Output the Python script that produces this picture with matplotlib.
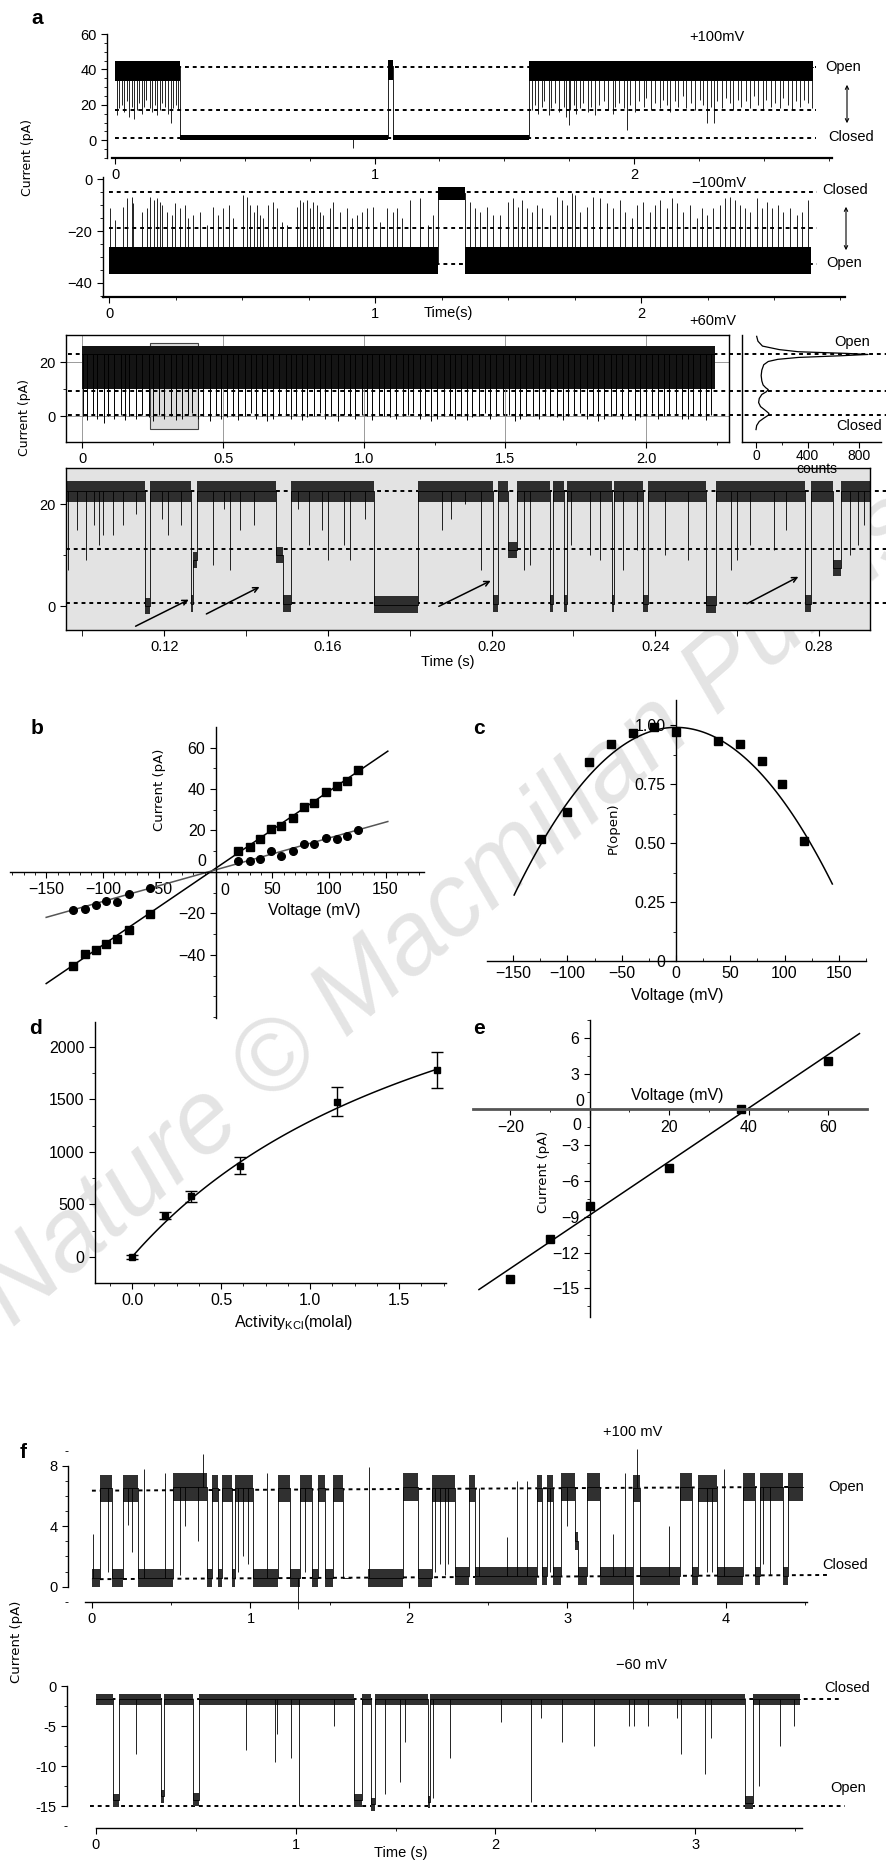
import numpy as np
import matplotlib
matplotlib.use('Agg')
import matplotlib.pyplot as plt
from matplotlib.ticker import MultipleLocator
from matplotlib.patches import Rectangle, FancyArrowPatch

plt.rcParams['font.family'] = ['Liberation Sans Narrow', 'Liberation Sans', 'DejaVu Sans']
plt.rcParams['font.size'] = 10.5
plt.rcParams['axes.linewidth'] = 1.0
plt.rcParams['xtick.major.size'] = 4
plt.rcParams['ytick.major.size'] = 4
plt.rcParams['xtick.minor.size'] = 2.5
plt.rcParams['ytick.minor.size'] = 2.5

WIDE = ['DejaVu Sans']

# ---------------- data ----------------
# a, +100 mV trace (s, pA)
a1_edges = [0.0, 0.25, 1.052, 1.070, 1.595, 2.690]
a1_levels = [41.5, 1.5, 42.0, 1.5, 41.5]
a1_spk_t = [0.006, 0.015, 0.028, 0.034, 0.047, 0.053, 0.066, 0.072, 0.085, 0.091,
            0.102, 0.113, 0.120, 0.136, 0.143, 0.155, 0.161, 0.175, 0.182, 0.194,
            0.203, 0.216, 0.222, 0.235, 0.243, 0.917,
            1.606, 1.619, 1.630, 1.645, 1.655, 1.671, 1.682, 1.697, 1.711, 1.729,
            1.737, 1.748, 1.755, 1.767, 1.778, 1.793, 1.804, 1.821, 1.836, 1.851,
            1.865, 1.885, 1.900, 1.919, 1.926, 1.944, 1.960, 1.973, 1.986, 2.005,
            2.019, 2.037, 2.048, 2.065, 2.080, 2.099, 2.110, 2.127, 2.140, 2.159,
            2.170, 2.189, 2.202, 2.219, 2.234, 2.253, 2.264, 2.281, 2.295, 2.307,
            2.320, 2.339, 2.354, 2.371, 2.382, 2.399, 2.414, 2.433, 2.446, 2.463,
            2.478, 2.497, 2.510, 2.528, 2.542, 2.561, 2.574, 2.592, 2.607, 2.625,
            2.639, 2.656, 2.671, 2.684]
a1_spk_y = [14, 18, 20, 16, 22, 13, 19, 12, 17, 21,
            15, 19, 23, 18, 16, 20, 14, 17, 21, 19,
            15, 10, 18, 20, 17, -4.5,
            17, 20, 15, 19, 22, 14, 18, 21, 16, 19,
            13, 8.5, 17, 20, 15, 18, 21, 16, 19, 14,
            20, 22, 17, 15, 19, 21, 18, 5.7, 20, 16,
            22, 19, 24, 17, 21, 18, 23, 20, 16, 22,
            19, 25, 18, 21, 17, 23, 20, 10, 19, 10,
            22, 18, 24, 21, 17, 23, 19, 22, 18, 25,
            20, 17, 23, 19, 21, 18, 24, 20, 17, 22,
            19, 23, 21, 18]

# a, -100 mV trace
a2_edges = [0.0, 1.237, 1.338, 2.640]
a2_levels = [-32.5, -5.5, -32.5]
a2_spk_t = [0.004, 0.023, 0.054, 0.066, 0.085, 0.091, 0.123, 0.142, 0.154, 0.167,
            0.179, 0.192, 0.198, 0.217, 0.236, 0.248, 0.267, 0.286, 0.298, 0.317,
            0.342, 0.367, 0.392, 0.411, 0.430, 0.449, 0.467, 0.505, 0.518, 0.530,
            0.543, 0.555, 0.568, 0.580, 0.599, 0.618, 0.630, 0.649, 0.668, 0.706,
            0.718, 0.730, 0.743, 0.756, 0.768, 0.781, 0.793, 0.806, 0.831, 0.843,
            0.868, 0.894, 0.912, 0.931, 0.950, 0.969, 0.994, 1.019, 1.044, 1.069,
            1.082, 1.100, 1.132, 1.169, 1.200, 1.219,
            1.357, 1.376, 1.395, 1.420, 1.445, 1.470, 1.501, 1.520, 1.539, 1.551,
            1.570, 1.589, 1.608, 1.627, 1.658, 1.683, 1.702, 1.721, 1.739, 1.752,
            1.771, 1.796, 1.821, 1.846, 1.871, 1.896, 1.921, 1.940, 1.965, 1.984,
            2.009, 2.034, 2.053, 2.071, 2.097, 2.115, 2.134, 2.159, 2.184, 2.209,
            2.228, 2.247, 2.272, 2.297, 2.316, 2.335, 2.353, 2.372, 2.391, 2.410,
            2.435, 2.454, 2.473, 2.491, 2.516, 2.535, 2.560, 2.585, 2.604, 2.629]
a2_spk_y = [-11.3, -15.8, -10.6, -7.4, -6.8, -9.4, -12.6, -11.3, -6.8, -8.1,
            -7.4, -8.7, -10, -12.6, -13.8, -9.4, -11.3, -10, -15.1, -13.8,
            -12.6, -17.7, -10.6, -13.8, -11.3, -10, -15.1, -6.2, -6.8, -10,
            -12.6, -10, -13.8, -15.1, -10, -8.7, -11.3, -16.4, -17.7, -10.6,
            -8.1, -8.7, -8.1, -11.3, -8.7, -10, -12.6, -13.8, -11.3, -8.7,
            -12.6, -11.3, -15.1, -13.8, -12.6, -11.3, -10.6, -16.4, -11.3, -12.6,
            -11.3, -15.1, -8.1, -7.4, -17.7, -13.8,
            -8.7, -11.3, -12.6, -10.6, -13.8, -13.8, -8.7, -7.4, -10.6, -8.1,
            -11.3, -12.6, -10, -11.3, -13.8, -6.8, -8.1, -10, -5.5, -6.2,
            -12.6, -10.6, -6.8, -7.4, -9.4, -11.3, -8.1, -12.6, -15.1, -10,
            -8.7, -12.6, -10, -8.1, -11.3, -7.4, -9.4, -12.6, -10, -15.1,
            -11.3, -13.8, -11.3, -10, -7.4, -6.8, -8.1, -10, -11.3, -12.6,
            -7.4, -11.3, -8.7, -11.3, -10, -12.6, -11.3, -13.8, -12.6, -8.1]

# a, +60 mV overview trace (closures reaching the closed level)
a3_edges = [0.0, 2.245]
a3_levels = [23.0]
a3_spk_t = [0.003, 0.017, 0.037, 0.053, 0.076, 0.091, 0.114, 0.137, 0.153, 0.168,
            0.191, 0.214, 0.237, 0.253, 0.273, 0.291, 0.314, 0.334, 0.353, 0.376,
            0.391, 0.411, 0.430, 0.453, 0.476, 0.494, 0.514, 0.534, 0.553, 0.576,
            0.599, 0.617, 0.637, 0.657, 0.676, 0.699, 0.722, 0.740, 0.760, 0.780,
            0.799, 0.822, 0.845, 0.863, 0.883, 0.906, 0.929, 0.949, 0.968, 0.991,
            1.011, 1.029, 1.052, 1.072, 1.091, 1.114, 1.137, 1.155, 1.175, 1.198,
            1.217, 1.237, 1.260, 1.283, 1.303, 1.321, 1.344, 1.364, 1.383, 1.406,
            1.429, 1.448, 1.468, 1.491, 1.514, 1.534, 1.552, 1.575, 1.598, 1.621,
            1.641, 1.660, 1.683, 1.706, 1.724, 1.744, 1.767, 1.790, 1.810, 1.829,
            1.852, 1.875, 1.893, 1.913, 1.937, 1.960, 1.980, 1.998, 2.021, 2.044,
            2.063, 2.083, 2.106, 2.129, 2.149, 2.167, 2.190, 2.213, 2.229]
a3_spk_y = [0, -1.5, 0.5, -1, -2.5, 0, -1, 0.5, -1.5, 0,
            -1, 0.5, -0.5, -2, 0.5, -1, 0, -1.5, -1, 0.5,
            1, -1, 0, -2, 0.5, -1, -0.5, 0, -1.5, 0,
            1, -1, 0, -2, -1, 0.5, 0.5, -1, 0, -1.5,
            -0.5, 0, 1, -1, 0, -2, 0.5, 0, -1, 0.5,
            0, -1.5, 0.5, 0, -0.5, -1, 0, 0.5, 1, -1,
            0, -2, -1, 0, 0.5, -1, 0, -1.5, -0.5, 0,
            1, -1, 0, 0.5, 0.5, -2, -1, 0, 0, -1,
            0.5, 0, -0.5, -1.5, 0, 0.5, 1, -1, 0, -2,
            -1, 0, 0.5, -1, 0, -1.5, -0.5, 0, 1, -1,
            0, 0.5, 0.5, -1, -1, 0, 0, -1.5, 0.5]

# all-points histogram (pA, counts)
hist_pA = [29.5, 27.7, 25.9, 24.6, 23.8, 23.2, 22.8, 22.3, 21.7, 21.0,
           20.2, 19.0, 17.0, 15.0, 13.0, 11.5, 10.5, 9.8, 9.0, 8.0,
           6.5, 5.0, 3.5, 2.0, 1.0, 0.3, -0.8, -2.0, -3.5, -5.0]
hist_counts = [5, 15, 50, 180, 330, 700, 870, 650, 330, 170,
               95, 60, 45, 40, 45, 55, 75, 95, 80, 45,
               25, 20, 35, 75, 100, 95, 60, 25, 5, 0]

# a, expanded +60 mV trace
a4_edges = [0.096, 0.1152, 0.1165, 0.1266, 0.1270, 0.1280, 0.1473, 0.1490, 0.1510,
            0.1713, 0.1821, 0.2003, 0.2017, 0.2041, 0.2062, 0.2143, 0.2150, 0.2178,
            0.2184, 0.2294, 0.2299, 0.2371, 0.2383, 0.2524, 0.2549, 0.2765, 0.2780,
            0.2834, 0.2855, 0.2924]
a4_levels = [22.5, 0.0, 22.5, 0.5, 9.0, 22.5, 10.0, 0.5, 22.5,
             0.3, 22.5, 0.5, 22.5, 11.0, 22.5, 0.5, 22.5, 0.5,
             22.5, 0.5, 22.5, 0.5, 22.5, 0.3, 22.5, 0.5, 22.5,
             7.5, 22.5]
a4_spk_t = [0.0966, 0.0986, 0.1010, 0.1028, 0.1041, 0.1051, 0.1075, 0.1100, 0.1130, 0.1195,
            0.1210, 0.1240, 0.1320, 0.1345, 0.1360, 0.1385, 0.1420, 0.1528, 0.1555, 0.1585,
            0.1600, 0.1640, 0.1655, 0.1690, 0.1880, 0.1900, 0.1935, 0.1975, 0.2080, 0.2095,
            0.2195, 0.2240, 0.2265, 0.2322, 0.2355, 0.2425, 0.2480, 0.2585, 0.2600, 0.2632,
            0.2690, 0.2720, 0.2875, 0.2895, 0.2910]
a4_spk_y = [7, 15, 9, 16, 12, 14, 14, 16, 18, 17,
            14, 16, 8, 19, 7, 15, 16, 19, 12, 15,
            9, 12, 9, 17, 15, 17, 20, 7, 7, 8,
            12, 10, 9, 7, 11, 10, 9, 7, 9, 12,
            11, 15, 10, 12, 16]
a4_arrow_start = [(0.1124, -4.2), (0.1297, -1.8), (0.1865, -0.3), (0.2618, 0.2)]
a4_arrow_end = [(0.1266, 1.5), (0.1439, 4.0), (0.2004, 5.2), (0.2756, 6.0)]

# b, I-V (mV, pA)
b_v = [-126, -116, -106, -97, -87, -77, -58, 20, 30, 39, 49, 58, 68, 78, 87, 97, 107, 116, 126]
b_sq = [-45.5, -39.5, -37.4, -34.5, -32.1, -27.8, -20.1, 10.3, 11.9, 16.1, 20.7, 22.0,
        26.0, 31.3, 33.3, 38.7, 41.4, 44.0, 49.0]
b_ci = [-18.5, -17.7, -15.7, -13.8, -14.5, -10.4, -7.9, 5.1, 5.5, 6.4, 10.1, 7.9,
        10.1, 13.5, 13.7, 16.4, 16.1, 17.2, 20.4]
b_fit_sq = (0.371, -5.0)   # slope pA/mV, reversal mV
b_fit_ci = (0.153, -7.0)

# c, open probability
c_v = [-124, -100, -80, -60, -40, -20, 0, 39, 59, 79, 98, 118]
c_p = [0.517, 0.633, 0.842, 0.919, 0.967, 0.993, 0.969, 0.934, 0.919, 0.847, 0.751, 0.510]
c_fit = (0.99, 3.2e-5)

# d, conductance vs activity
d_a = [0.0, 0.184, 0.329, 0.608, 1.152, 1.715]
d_g = [0, 394, 578, 870, 1480, 1778]
d_err = [15, 35, 50, 80, 135, 170]
d_fit = (3866, 1.99)

# e, reversal potential
e_v = [-20, -10, 0, 20, 38, 60]
e_i = [-14.2, -10.9, -8.1, -4.9, 0.0, 4.1]
e_fit = (0.224, 39.5)

# f, +100 mV trace
f1_edges = [0.000, 0.053, 0.124, 0.198, 0.292, 0.513, 0.724, 0.755, 0.797, 0.818,
            0.881, 0.902, 1.018, 1.176, 1.249, 1.312, 1.386, 1.428, 1.470, 1.523,
            1.586, 1.628, 1.743, 1.964, 2.059, 2.143, 2.290, 2.381, 2.416, 2.805,
            2.837, 2.868, 2.911, 2.957, 3.048, 3.069, 3.121, 3.205, 3.416, 3.458,
            3.710, 3.784, 3.826, 3.941, 4.109, 4.183, 4.215, 4.362, 4.394, 4.486]
f1_levels = [0.6, 6.5, 0.6, 6.5, 0.6, 6.6, 0.6, 6.5, 0.6, 6.5,
             0.6, 6.5, 0.6, 6.5, 0.6, 6.5, 0.6, 6.5, 0.6, 6.5,
             0.6, np.nan, 0.6, 6.6, 0.6, 6.5, 0.7, 6.5, 0.7, 6.5,
             0.7, 6.5, 0.7, 6.6, 3.0, 0.7, 6.6, 0.7, 6.5, 0.7,
             6.6, 0.7, 6.5, 0.7, 6.6, 0.7, 6.6, 0.7, 6.6]
f1_spk_t = [0.005, 0.099, 0.229, 0.250, 0.330, 0.461, 0.555, 0.587, 0.671, 0.700,
            0.923, 0.955, 0.986, 1.102, 1.300, 1.344, 1.745, 2.164, 2.195, 2.227,
            2.248, 2.444, 2.616, 2.683, 2.746, 2.890, 2.995, 3.289, 3.362, 3.411,
            3.440, 3.643, 3.878, 3.910, 3.988, 4.236, 4.278]
f1_spk_y = [3.5, 1.0, 4.1, 2.3, 7.8, 7.5, 0.8, 4.0, 3.0, 8.8,
            1.0, 2.0, 1.5, 7.5, -1.5, 1.0, 7.9, 1.0, 1.5, 0.8,
            1.5, 6.5, 3.3, 7.0, 7.0, 1.0, 4.0, 3.5, 7.5, -1.5,
            9.1, 4.0, 1.0, 1.0, 7.8, 1.5, 0.8]

# f, -60 mV trace
f2_edges = [0.000, 0.085, 0.113, 0.326, 0.340, 0.488, 0.516, 1.290, 1.330, 1.376,
            1.396, 1.660, 1.670, 3.248, 3.291, 3.523]
f2_levels = [-1.6, -14.3, -1.6, -13.8, -1.6, -14.2, -1.6, -14.3, -1.6, -14.8,
             -1.6, -14.5, -1.6, -14.6, -1.6]
f2_spk_t = [0.199, 0.752, 0.894, 0.905, 0.979, 1.016, 1.190, 1.447, 1.523, 1.546,
            1.688, 1.773, 2.028, 2.179, 2.227, 2.335, 2.496, 2.667, 2.695, 2.766,
            2.908, 2.930, 3.050, 3.078, 3.319, 3.427, 3.495]
f2_spk_y = [-8.5, -8.0, -9.5, -6.0, -9.0, -15.0, -5.0, -13.5, -12.0, -7.0,
            -14.0, -9.0, -4.5, -14.5, -4.0, -7.0, -7.5, -5.0, -5.0, -5.0,
            -4.0, -8.5, -11.0, -6.5, -12.5, -7.5, -5.0]

# ---------------- figure ----------------
W, H = 886, 1860
fig = plt.figure(figsize=(W / 100, H / 100), dpi=100)


def box(l, t, r, b):
    return [l / W, 1 - b / H, (r - l) / W, (b - t) / H]


def ftext(x, y, s, **kw):
    kw.setdefault('ha', 'center')
    kw.setdefault('va', 'center')
    fig.text(x / W, 1 - y / H, s, **kw)


def new_ax(rect, keep=('left', 'bottom')):
    ax = fig.add_axes(rect)
    ax.patch.set_alpha(0)
    for s in ['left', 'right', 'top', 'bottom']:
        ax.spines[s].set_visible(s in keep)
    return ax


def draw_trace(ax, edges, levels, thr, band_open, band_closed, spk_t, spk_y,
               band_color='k', lw=0.6):
    # band_*: (spread below, spread above) of the recording noise around a level
    e = np.asarray(edges, float)
    lv = np.asarray(levels, float)
    y = np.append(lv, lv[-1])
    is_open = np.abs(y) > thr
    lo = np.where(is_open, band_open[0], band_closed[0])
    hi = np.where(is_open, band_open[1], band_closed[1])
    if y[0] < 0:
        lo, hi = hi, lo
    ax.fill_between(e, y - lo, y + hi, step='post', color=band_color, lw=0, zorder=2)
    ax.plot(e, y, drawstyle='steps-post', color='k', lw=lw, zorder=2)
    st = np.asarray(spk_t, float)
    idx = np.clip(np.searchsorted(e, st, side='right') - 1, 0, len(lv) - 1)
    ax.vlines(st, lv[idx], spk_y, color='k', lw=lw, zorder=2)


DASH = dict(color='k', lw=1.4, ls=(0, (2, 2)), zorder=1)

# watermark
fig.text(12 / W, 1 - 1328 / H, 'Nature \u00a9 Macmillan Publishers Ltd', rotation=41,
         rotation_mode='anchor', ha='left', va='baseline', fontsize=74, style='italic',
         color='#e4e4e4', family=['Liberation Sans', 'DejaVu Sans'], zorder=-5)

# ---- a1
ax1 = new_ax(box(107, 34, 832, 158))
ax1.set_xlim(-0.031, 2.763)
ax1.set_ylim(-10, 60)
draw_trace(ax1, a1_edges, a1_levels, 20, (8.0, 3.5), (1.5, 1.5), a1_spk_t, a1_spk_y)
for lv in [41.5, 17.0, 1.5]:
    ax1.plot([0.0, 2.70], [lv, lv], **DASH)
ax1.set_xticks([0, 1, 2])
ax1.xaxis.set_minor_locator(MultipleLocator(0.25))
ax1.set_yticks([0, 20, 40, 60])
ax1.yaxis.set_minor_locator(MultipleLocator(5))
ax1.spines['bottom'].set_linewidth(1.6)
ax1.spines['bottom'].set_bounds(-0.012, 2.763)
ftext(717, 37, '+100mV')
ftext(825, 67, 'Open', ha='left')
ftext(828, 137, 'Closed', ha='left')
fig.add_artist(FancyArrowPatch((847 / W, 1 - 82 / H), (847 / W, 1 - 126 / H),
               transform=fig.transFigure, arrowstyle='<->', mutation_scale=6, lw=0.8, color='k'))

# ---- a2
ax2 = new_ax(box(103, 177, 845, 297))
ax2.set_xlim(-0.023, 2.767)
ax2.set_ylim(-45.4, 0.8)
draw_trace(ax2, a2_edges, a2_levels, 20, (6.5, 4.0), (2.5, 2.5), a2_spk_t, a2_spk_y)
for lv in [-5.0, -18.8, -32.8]:
    ax2.plot([0.0, 2.66], [lv, lv], **DASH)
ax2.set_xticks([0, 1, 2])
ax2.xaxis.set_minor_locator(MultipleLocator(0.25))
ax2.set_yticks([-40, -20, 0])
ax2.yaxis.set_minor_locator(MultipleLocator(5))
ax2.spines['bottom'].set_linewidth(1.6)
ftext(719, 183, '\u2212100mV')
ftext(822, 190, 'Closed', ha='left')
ftext(826, 263, 'Open', ha='left')
fig.add_artist(FancyArrowPatch((846 / W, 1 - 204 / H), (846 / W, 1 - 253 / H),
               transform=fig.transFigure, arrowstyle='<->', mutation_scale=6, lw=0.8, color='k'))
ftext(448, 313, 'Time(s)')
ftext(28, 157, 'Current (pA)', rotation=90, family=WIDE, fontsize=9)

# ---- a3
ax3 = new_ax(box(66, 335, 729, 442), keep=('left', 'right', 'top', 'bottom'))
ax3.set_xlim(-0.057, 2.294)
ax3.set_ylim(-9.6, 30)
ax3.set_xticks([0, 0.5, 1.0, 1.5, 2.0])
ax3.set_xticklabels(['0', '0.5', '1.0', '1.5', '2.0'])
ax3.xaxis.set_minor_locator(MultipleLocator(0.25))
ax3.set_yticks([0, 20])
ax3.set_yticks([10], minor=True)
ax3.grid(True, which='major', color='#8a8a8a', lw=0.6, zorder=0)
ax3.add_patch(Rectangle((0.24, -4.8), 0.17, 31.8, fc='#dcdcdc', ec='#444444', lw=0.8, zorder=0.5))
draw_trace(ax3, a3_edges, a3_levels, 15, (13.0, 3.0), (1.0, 1.0), a3_spk_t, a3_spk_y,
           band_color='#141414', lw=0.7)
for lv in [23.0, 9.3, 0.4]:
    ax3.plot([-0.05, 2.851], [lv, lv], clip_on=False, **DASH)
ftext(713, 321, '+60mV')
ftext(25, 417, 'Current (pA)', rotation=90, family=WIDE, fontsize=9)

axh = new_ax(box(742, 335, 881, 442))
axh.set_xlim(-109, 971)
axh.set_ylim(-9.6, 30)
axh.plot(hist_counts, hist_pA, color='k', lw=0.9)
axh.set_xticks([0, 400, 800])
axh.xaxis.set_minor_locator(MultipleLocator(200))
axh.tick_params(axis='x', pad=1, labelsize=10)
axh.set_yticks([])
ftext(852, 342, 'Open')
ftext(859, 426, 'Closed')
ftext(817, 469, 'counts', fontsize=10)

# ---- a4
ax4 = new_ax(box(66, 468, 870, 630), keep=('left', 'right', 'top', 'bottom'))
ax4.patch.set_alpha(1)
ax4.set_facecolor('#e3e3e3')
ax4.set_xlim(0.096, 0.2925)
ax4.set_ylim(-4.7, 27.1)
draw_trace(ax4, a4_edges, a4_levels, 15, (2.0, 2.0), (1.6, 1.6), a4_spk_t, a4_spk_y,
           band_color='#2e2e2e')
for lv in [22.5, 11.2, 0.6]:
    ax4.plot([0.096, 0.3034], [lv, lv], clip_on=False, **DASH)
for (x0, y0), (x1, y1) in zip(a4_arrow_start, a4_arrow_end):
    ax4.annotate('', xy=(x1, y1), xytext=(x0, y0),
                 arrowprops=dict(arrowstyle='->', lw=1.1, color='k', mutation_scale=9))
ax4.set_xticks([0.12, 0.16, 0.20, 0.24, 0.28])
ax4.set_xticklabels(['0.12', '0.16', '0.20', '0.24', '0.28'])
ax4.set_xticks([0.10, 0.14, 0.18, 0.22, 0.26], minor=True)
ax4.tick_params(axis='x', which='minor', length=4)
ax4.set_yticks([0, 20])
ax4.set_yticks([10], minor=True)
ftext(448, 662, 'Time (s)')

# ---- b
TS = 11.5
axb = new_ax(box(10, 727, 424, 1018))
axb.set_xlim(-182, 184)
axb.set_ylim(-70.4, 69.9)
axb.spines['left'].set_position(('data', 0))
axb.spines['bottom'].set_position(('data', 0))
vv = np.array([-150.0, 152.0])
axb.plot(vv, b_fit_sq[0] * (vv - b_fit_sq[1]), color='k', lw=1.1)
axb.plot(vv, b_fit_ci[0] * (vv - b_fit_ci[1]), color='#555555', lw=1.1)
axb.plot(b_v, b_sq, 's', color='k', ms=5.5)
axb.plot(b_v, b_ci, 'o', color='k', ms=5.5)
axb.set_xticks([-150, -100, -50, 0, 50, 100, 150])
axb.set_xticklabels(['\u2212150', '\u2212100', '\u221250', '', '50', '100', '150'], fontsize=TS)
axb.xaxis.set_minor_locator(MultipleLocator(10))
axb.set_yticks([-40, -20, 0, 20, 40, 60])
axb.set_yticklabels(['\u221240', '\u221220', '', '20', '40', '60'], fontsize=TS)
axb.yaxis.set_minor_locator(MultipleLocator(10))
ftext(225, 890, '0', fontsize=TS)
ftext(206, 862, '0', ha='right', fontsize=TS)
ftext(314, 910, 'Voltage (mV)', fontsize=TS)
ftext(160, 790, 'Current (pA)', rotation=90, family=WIDE, fontsize=9.5)

# ---- c
axc = new_ax(box(487, 700, 866, 961))
axc.set_xlim(-174, 175)
axc.set_ylim(0, 1.106)
axc.spines['left'].set_position(('data', 0))
vc = np.linspace(-149, 144, 120)
axc.plot(vc, c_fit[0] - c_fit[1] * vc ** 2, color='k', lw=1.1)
axc.plot(c_v, c_p, 's', color='k', ms=5.5)
axc.set_xticks([-150, -100, -50, 0, 50, 100, 150])
axc.set_xticklabels(['\u2212150', '\u2212100', '\u221250', '0', '50', '100', '150'], fontsize=TS)
axc.xaxis.set_minor_locator(MultipleLocator(25))
axc.tick_params(axis='x', which='both', direction='in')
axc.set_yticks([0, 0.25, 0.5, 0.75, 1.0])
axc.set_yticklabels(['0', '0.25', '0.50', '0.75', '1.00'], fontsize=TS)
axc.yaxis.set_minor_locator(MultipleLocator(0.125))
ftext(677, 995, 'Voltage (mV)', fontsize=TS)
ftext(613, 828, 'P(open)', rotation=90, family=WIDE, fontsize=9.5)

# ---- d
axd = new_ax(box(95, 1022, 446, 1283))
axd.set_xlim(-0.208, 1.764)
axd.set_ylim(-248, 2238)
ad = np.linspace(0, 1.73, 100)
axd.plot(ad, d_fit[0] * ad / (d_fit[1] + ad), color='k', lw=1.1)
axd.errorbar(d_a, d_g, yerr=d_err, fmt='s', color='k', ms=5, capsize=4, elinewidth=1, capthick=1)
axd.set_xticks([0, 0.5, 1.0, 1.5])
axd.set_xticklabels(['0.0', '0.5', '1.0', '1.5'], fontsize=TS)
axd.xaxis.set_minor_locator(MultipleLocator(0.125))
axd.set_yticks([0, 500, 1000, 1500, 2000])
axd.set_yticklabels(['0', '500', '1000', '1500', '2000'], fontsize=TS)
axd.yaxis.set_minor_locator(MultipleLocator(250))
ftext(294, 1322, 'Activity$_{\\mathregular{KCl}}$(molal)', fontsize=TS)

# ---- e
axe = new_ax(box(473, 1020, 867, 1317))
axe.set_xlim(-29.4, 69.8)
axe.set_ylim(-17.4, 7.5)
axe.spines['left'].set_position(('data', 0))
axe.spines['bottom'].set_position(('data', 0))
axe.spines['bottom'].set_linewidth(2.0)
axe.spines['bottom'].set_color('#555555')
ve = np.array([-27.9, 67.9])
axe.plot(ve, e_fit[0] * (ve - e_fit[1]), color='k', lw=1.1)
axe.plot(e_v, e_i, 's', color='k', ms=5.5)
axe.set_xticks([-20, 0, 20, 40, 60])
axe.set_xticklabels(['\u221220', '', '20', '40', '60'], fontsize=TS)
axe.xaxis.set_minor_locator(MultipleLocator(10))
axe.set_yticks([-15, -12, -9, -6, -3, 0, 3, 6])
axe.set_yticklabels(['\u221215', '\u221212', '\u22129', '\u22126', '\u22123', '', '3', '6'], fontsize=TS)
axe.yaxis.set_minor_locator(MultipleLocator(1.5))
ftext(577, 1126, '0', fontsize=TS)
ftext(584, 1101, '0', ha='right', fontsize=TS)
ftext(677, 1095, 'Voltage (mV)', fontsize=TS)
ftext(543, 1172, 'Current (pA)', rotation=90, family=WIDE, fontsize=9.5)

# ---- f1
axf1 = new_ax(box(68, 1443, 807, 1614))
axf1.set_xlim(-0.151, 4.511)
axf1.set_ylim(-1.8, 9.5)
axf1.spines['left'].set_bounds(0, 8)
axf1.spines['bottom'].set_position(('data', -1))
axf1.spines['bottom'].set_bounds(-0.044, 4.51)
draw_trace(axf1, f1_edges, f1_levels, 3.5, (0.9, 0.9), (0.6, 0.6), f1_spk_t, f1_spk_y,
           band_color='#303030')
axf1.plot([0.0, 4.48], [6.35, 6.6], **DASH)
axf1.plot([0.0, 4.66], [0.5, 0.78], clip_on=False, **DASH)
axf1.set_xticks([0, 1, 2, 3, 4])
axf1.xaxis.set_minor_locator(MultipleLocator(0.5))
axf1.set_yticks([0, 4, 8])
axf1.yaxis.set_minor_locator(MultipleLocator(1))
ftext(633, 1432, '+100 mV')
ftext(828, 1487, 'Open', ha='left')
ftext(822, 1565, 'Closed', ha='left')
ftext(17, 1642, 'Current (pA)', rotation=90, family=WIDE, fontsize=9.5)

# ---- f2
axf2 = new_ax(box(67, 1680, 802, 1830))
axf2.set_xlim(-0.145, 3.535)
axf2.set_ylim(-18, 0.8)
axf2.spines['left'].set_bounds(-15, 0)
axf2.spines['bottom'].set_position(('data', -17.7))
axf2.spines['bottom'].set_bounds(0, 3.535)
draw_trace(axf2, f2_edges, f2_levels, 8, (0.8, 0.8), (0.7, 0.7), f2_spk_t, f2_spk_y,
           band_color='#303030')
axf2.plot([0.0, 3.735], [-1.6, -1.6], clip_on=False, **DASH)
axf2.plot([-0.03, 3.75], [-15.0, -15.0], clip_on=False, **DASH)
axf2.set_xticks([0, 1, 2, 3])
axf2.xaxis.set_minor_locator(MultipleLocator(0.5))
axf2.set_yticks([-15, -10, -5, 0])
axf2.set_yticklabels(['-15', '-10', '-5', '0'])
axf2.yaxis.set_minor_locator(MultipleLocator(2.5))
ftext(641, 1665, '\u221260 mV')
ftext(824, 1688, 'Closed', ha='left')
ftext(830, 1788, 'Open', ha='left')
ftext(401, 1853, 'Time (s)')

# panel letters
for lab, x, y in [('a', 37, 18), ('b', 37, 728), ('c', 479, 728),
                  ('d', 35, 1028), ('e', 479, 1028), ('f', 23, 1452)]:
    ftext(x, y, lab, fontsize=15, fontweight='bold')

fig.savefig('out.png', dpi=100)
